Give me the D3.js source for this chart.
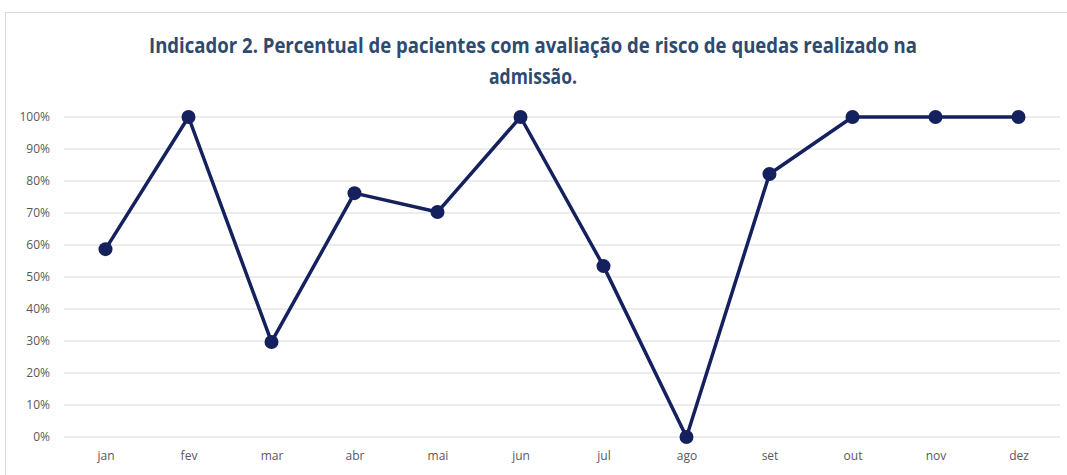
<!DOCTYPE html>
<html>
<head>
<meta charset="utf-8">
<script src="https://cdn.jsdelivr.net/npm/d3@7"></script>
<style>
  body { margin: 0; background: #fff; }
  .axis text { font-family: "Open Sans", sans-serif; fill: #595959; }
  .axis path, .axis line { display: none; }
  .grid line { stroke: #d9d9d9; stroke-width: 1; }
</style>
</head>
<body>
<div id="chart"></div>
<script>
const months = ['jan', 'fev', 'mar', 'abr', 'mai', 'jun', 'jul', 'ago', 'set', 'out', 'nov', 'dez'];
const values = [0.587, 1.0, 0.297, 0.762, 0.703, 1.0, 0.534, 0.0, 0.822, 1.0, 1.0, 1.0];
const yTicks = [0, 0.1, 0.2, 0.3, 0.4, 0.5, 0.6, 0.7, 0.8, 0.9, 1.0];
const titleLines = ['Indicador 2. Percentual de pacientes com avaliação de risco de quedas realizado na', 'admissão.'];

const width = 1067, height = 475;
const MARGIN = { top: 117, right: 7, bottom: 38, left: 64 };
const innerW = width - MARGIN.left - MARGIN.right;
const innerH = height - MARGIN.top - MARGIN.bottom;

const svg = d3.select('#chart').append('svg')
  .attr('width', width).attr('height', height)
  .attr('viewBox', `0 0 ${width} ${height}`);

// chart frame
svg.append('rect')
  .attr('x', 5.5).attr('y', 12.5).attr('width', width + 10).attr('height', height + 10)
  .attr('fill', 'none').attr('stroke', '#d9d9d9');

svg.append('g').selectAll('text').data(titleLines).join('text')
  .attr('x', 533).attr('y', (d, i) => 53 + i * 31)
  .attr('text-anchor', 'middle')
  .attr('font-family', '"Open Sans", sans-serif')
  .attr('font-weight', 700).attr('font-size', 21)
  .attr('fill', '#2d4a70')
  .attr('textLength', (d, i) => i === 0 ? 768 : 88)
  .attr('lengthAdjust', 'spacingAndGlyphs')
  .text(d => d);

const g = svg.append('g').attr('transform', `translate(${MARGIN.left},${MARGIN.top})`);

const x = d3.scalePoint().domain(months).range([0, innerW]).padding(0.5);
const y = d3.scaleLinear().domain([0, 1]).range([innerH, 0]);

g.append('g').attr('class', 'grid')
  .selectAll('line').data(yTicks).join('line')
  .attr('x1', 0).attr('x2', innerW)
  .attr('y1', d => y(d)).attr('y2', d => y(d));

g.append('g').attr('class', 'axis')
  .call(d3.axisLeft(y).tickValues(yTicks).tickFormat(d3.format('.0%')).tickSize(0).tickPadding(14))
  .selectAll('text').attr('font-size', 12).attr('dy', '0.32em');

g.append('g').attr('class', 'axis')
  .attr('transform', `translate(0,${innerH})`)
  .call(d3.axisBottom(x).tickSize(0).tickPadding(14))
  .selectAll('text').attr('font-size', 12);

const line = d3.line().x((d, i) => x(months[i])).y(d => y(d));
g.append('path').datum(values)
  .attr('fill', 'none').attr('stroke', '#14215e').attr('stroke-width', 3.5)
  .attr('stroke-linejoin', 'round')
  .attr('d', line);

g.append('g').selectAll('circle').data(values).join('circle')
  .attr('cx', (d, i) => x(months[i])).attr('cy', d => y(d))
  .attr('r', 7).attr('fill', '#14215e');
</script>
</body>
</html>
